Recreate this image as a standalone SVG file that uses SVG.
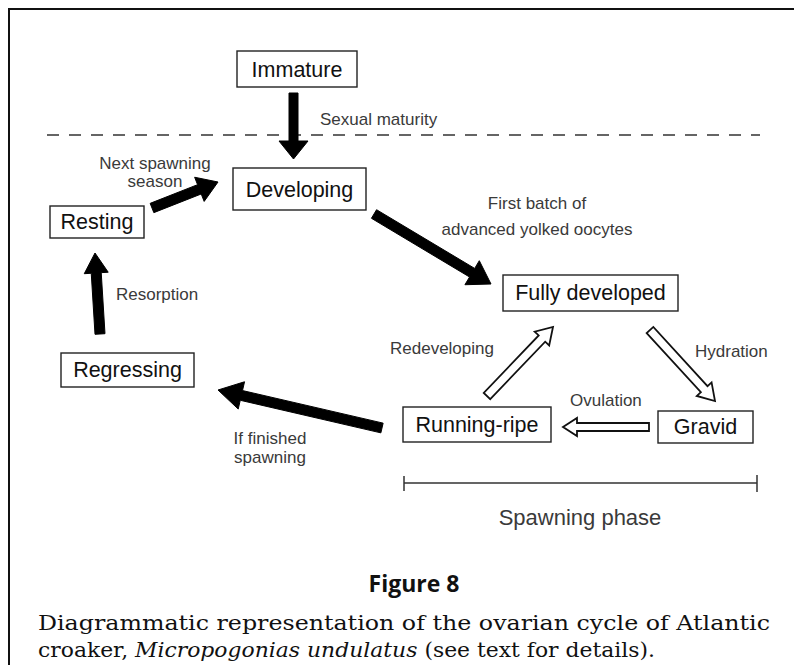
<svg xmlns="http://www.w3.org/2000/svg" width="794" height="665" viewBox="0 0 794 665">
<style>
.box{fill:#fff;stroke:#222;stroke-width:1.4}
.nt{font-family:"Liberation Sans",Arial,sans-serif;font-size:21.5px;fill:#111;text-anchor:middle}
.lb{font-family:"Liberation Sans",Arial,sans-serif;font-size:17px;fill:#3a3a3a}
.solid{fill:#000;stroke:#000;stroke-width:1;stroke-linejoin:miter}
.hollow{fill:#fff;stroke:#111;stroke-width:1.8;stroke-linejoin:miter}
.cap{font-family:"DejaVu Serif","Liberation Serif",serif;font-size:20.5px;fill:#111}
</style>
<rect width="794" height="665" fill="#fff"/>
<path d="M9,675 V9 H800" fill="none" stroke="#111" stroke-width="2"/>
<line x1="47" y1="135" x2="760" y2="135" stroke="#333" stroke-width="1.4" stroke-dasharray="12,10"/>
<g id="immature"><rect class="box" x="237" y="51" width="120" height="36"/><text class="nt" x="297" y="77">Immature</text></g>
<g id="developing"><rect class="box" x="233" y="168" width="133" height="42"/><text class="nt" x="299.5" y="197">Developing</text></g>
<g id="resting"><rect class="box" x="50" y="206" width="94" height="32"/><text class="nt" x="97" y="229">Resting</text></g>
<g id="fully"><rect class="box" x="503" y="275" width="175" height="36"/><text class="nt" x="590.5" y="300">Fully developed</text></g>
<g id="regressing"><rect class="box" x="61" y="353" width="133" height="34"/><text class="nt" x="127.5" y="377">Regressing</text></g>
<g id="running"><rect class="box" x="403" y="407" width="148" height="35"/><text class="nt" x="477" y="432">Running-ripe</text></g>
<g id="gravid"><rect class="box" x="658" y="411" width="95" height="32"/><text class="nt" x="705.5" y="434">Gravid</text></g>
<g id="connectors">
<polygon class="solid" points="289,93 298,93 298,141 308,141 293.5,159 279,141 289,141"/>
<polygon class="solid" points="153.83,212.65 201.23,193.98 204.16,201.42 218,182 194.64,177.24 197.57,184.68 150.17,203.35"/>
<polygon class="solid" points="371.43,218.29 469.55,277 464.93,284.72 491,284 479.31,260.7 474.69,268.42 376.57,209.71"/>
<polygon class="solid" points="104.99,333.69 101.22,272.65 108.21,272.22 95,253 84.25,273.7 91.24,273.27 95.01,334.31"/>
<polygon class="solid" points="383.13,423.13 242.51,390.55 244.54,381.78 218,390 238.22,409.06 240.25,400.29 380.87,432.87"/>
<polygon class="hollow" points="649,423 577,423 577,418 563,427 577,436 577,431 649,431"/>
<polygon class="hollow" points="490.25,399.11 545.19,341.67 549.17,345.47 553,327 534.71,331.65 538.69,335.45 483.75,392.89"/>
<polygon class="hollow" points="646.68,333.04 700.88,392.24 696.82,395.95 715,401 711.58,382.45 707.52,386.16 653.32,326.96"/>
</g>
<g id="labels">
<text class="lb" x="320" y="125">Sexual maturity</text>
<text class="lb" x="155" y="169" text-anchor="middle">Next spawning</text>
<text class="lb" x="155" y="187" text-anchor="middle">season</text>
<text class="lb" x="537" y="209" text-anchor="middle">First batch of</text>
<text class="lb" x="537" y="235" text-anchor="middle">advanced yolked oocytes</text>
<text class="lb" x="116" y="300">Resorption</text>
<text class="lb" x="390" y="354">Redeveloping</text>
<text class="lb" x="695" y="357">Hydration</text>
<text class="lb" x="570" y="406">Ovulation</text>
<text class="lb" x="270" y="444" text-anchor="middle">If finished</text>
<text class="lb" x="270" y="463" text-anchor="middle">spawning</text>
</g>
<g id="spawning-phase">
<path d="M404,483 H757 M404,476 V491 M757,475 V492" stroke="#333" stroke-width="1.5" fill="none"/>
<text x="580" y="525" text-anchor="middle" font-family="Liberation Sans,Arial,sans-serif" font-size="22" fill="#3a3a3a">Spawning phase</text>
</g>
<text x="414" y="592" text-anchor="middle" font-family="Open Sans,Liberation Sans,sans-serif" font-weight="bold" font-size="23" fill="#111">Figure 8</text>
<text class="cap" x="38" y="630" textLength="732" lengthAdjust="spacingAndGlyphs">Diagrammatic representation of the ovarian cycle of Atlantic</text>
<text class="cap" x="38" y="657" textLength="617" lengthAdjust="spacingAndGlyphs">croaker, <tspan font-style="italic">Micropogonias undulatus</tspan> (see text for details).</text>
</svg>
